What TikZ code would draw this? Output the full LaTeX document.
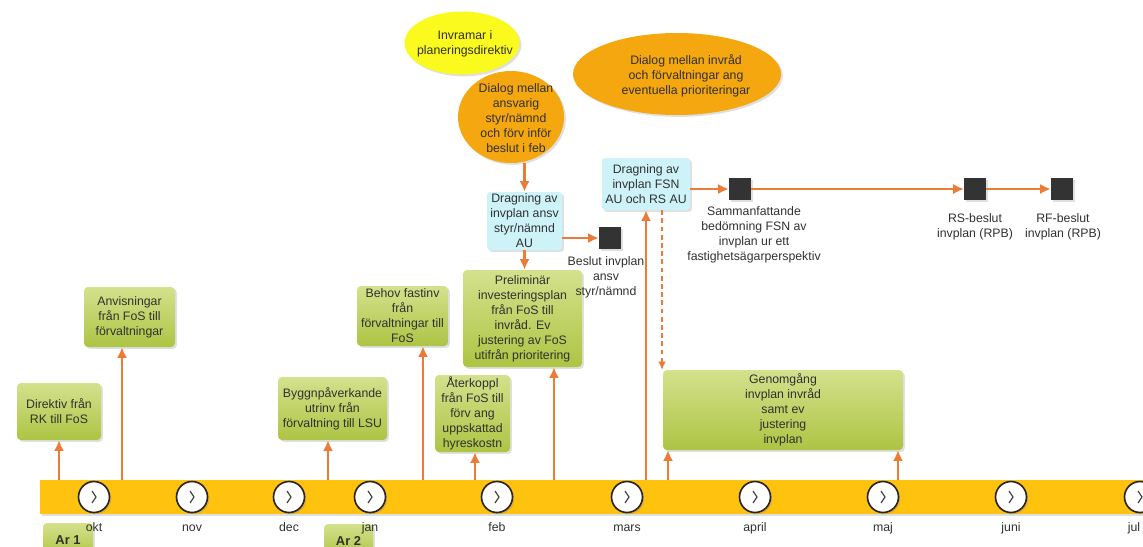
\documentclass[tikz,border=0pt]{standalone}
\usepackage{fontspec}
\setmainfont{Liberation Sans}
\usetikzlibrary{positioning,arrows.meta,shapes.geometric,shadows}
\definecolor{bar-gold}{HTML}{FFC20E}
\definecolor{green-top}{HTML}{D4E18D}
\definecolor{green-bot}{HTML}{ADC443}
\definecolor{box-cyan}{HTML}{CDF3F8}
\definecolor{ell-orange}{HTML}{F4A70F}
\definecolor{ell-yellow}{HTML}{FAFA1E}
\definecolor{arrow-orange}{HTML}{EB7B37}
\definecolor{text-gray}{HTML}{303030}
\definecolor{sq-dark}{HTML}{333333}
\newdimen\tlpx
\setlength{\tlpx}{0.03cm}
\tikzstyle{every node}=[font=\fontsize{10.5}{12.8}\selectfont, text=text-gray]
\tikzstyle{softshadow}=[drop shadow={opacity=0.25, shadow xshift=1.6pt, shadow yshift=-1.6pt}]
\tikzstyle{barstyle}=[shape=rectangle, fill=bar-gold, inner sep=0pt, softshadow]
\tikzstyle{greenstyle}=[shape=rectangle, rounded corners=4\tlpx, top color=green-top, bottom color=green-bot, align=center, inner sep=1pt, softshadow]
\tikzstyle{cyanstyle}=[shape=rectangle, rounded corners=3\tlpx, fill=box-cyan, align=center, inner sep=1pt, softshadow]
\tikzstyle{ellstyle}=[shape=ellipse, inner sep=0pt, softshadow]
\tikzstyle{elltextstyle}=[align=center, inner sep=0pt]
\tikzstyle{squarestyle}=[shape=rectangle, fill=sq-dark, minimum size=22\tlpx, inner sep=0pt, softshadow]
\tikzstyle{sqlabelstyle}=[anchor=north, align=center, inner sep=0pt]
\tikzstyle{clockstyle}=[shape=circle, fill=white, draw=black!85, line width=1.4pt, minimum size=31\tlpx, inner sep=0pt, softshadow]
\tikzstyle{chevstyle}=[draw=black!75, line width=1pt]
\tikzstyle{monthstyle}=[anchor=base, inner sep=0pt]
\tikzstyle{yearstyle}=[greenstyle, font=\bfseries\fontsize{11}{13}\selectfont]
\tikzstyle{arrowstyle}=[draw=arrow-orange, line width=2pt, -{Latex[length=9pt,width=8.5pt]}]
\tikzstyle{thinarrowstyle}=[arrowstyle, line width=1.2pt]
\tikzstyle{dashedarrowstyle}=[arrowstyle, line width=1pt, dash pattern=on 4pt off 3pt, -{Latex[length=7pt,width=6.5pt]}]
\newcommand{\tlmonth}[4]{ \node[style=clockstyle] (#1) at (#2,497) {}; \draw[style=chevstyle] ([shift={(-2,-6)}]#1.center) -- ([shift={(2,0)}]#1.center) -- ([shift={(-2,6)}]#1.center); \node[style=monthstyle] (#1lbl) at (#3,531) {#4}; }
\newcommand{\tlgreen}[6]{ \node[style=greenstyle, minimum width=#4\tlpx, minimum height=#5\tlpx] (#1) at (#2,#3) {#6}; }
\newcommand{\tlcyan}[6]{ \node[style=cyanstyle, minimum width=#4\tlpx, minimum height=#5\tlpx] (#1) at (#2,#3) {#6}; }
\newcommand{\tlellipse}[9]{ \node[style=ellstyle, fill=#6, minimum width=#4\tlpx, minimum height=#5\tlpx] (#1) at (#2,#3) {}; \node[style=elltextstyle] (#1txt) at (#7,#8) {#9}; }
\newcommand{\tlsquare}[6]{ \node[style=squarestyle] (#1) at (#2,#3) {}; \node[style=sqlabelstyle] (#1lbl) at (#4,#5) {#6}; }
\newcommand{\tlup}[3]{ \coordinate (#1) at (#2,480); \draw[style=arrowstyle] (#1) -- (#3.south -| #1); }

\begin{document}
\begin{tikzpicture}[x=0.03cm, y=-0.03cm]
\useasboundingbox (0,0) rectangle (1143,546);
\clip (0,0) rectangle (1143,546);
% time line
\node[style=barstyle, anchor=north west, minimum width=1120\tlpx, minimum height=34\tlpx] (bar) at (40,480) {}; %
\node[style=yearstyle, minimum width=50\tlpx, minimum height=34\tlpx] (ar1) at (68,540) {Ar 1}; %
\node[style=yearstyle, minimum width=49\tlpx, minimum height=34\tlpx] (ar2) at (348.5,541) {Ar 2}; %
\tlmonth{okt}{94}{94}{okt} %
\tlmonth{nov}{192}{192}{nov} %
\tlmonth{dec}{289}{289}{dec} %
\tlmonth{jan}{370}{370}{jan} %
\tlmonth{feb}{497}{497}{feb} %
\tlmonth{mars}{627}{627}{mars} %
\tlmonth{april}{755}{755}{april} %
\tlmonth{maj}{883}{883}{maj} %
\tlmonth{juni}{1011}{1011}{juni} %
\tlmonth{jul}{1140}{1134}{jul} %
% ellipses
\tlellipse{ramar}{462}{43}{115}{63}{ell-yellow}{465}{44}{Invramar i\\planeringsdirektiv} %
\tlellipse{dlgansv}{511}{117}{106}{92}{ell-orange}{516}{118}{Dialog mellan\\ansvarig\\styr/nämnd\\och förv inför\\beslut i feb} %
\tlellipse{dlgprio}{677}{74}{208}{82}{ell-orange}{686}{76}{Dialog mellan invråd\\och förvaltningar ang\\eventuella prioriteringar} %
% boxes
\tlgreen{direktiv}{59}{411.5}{84}{57}{Direktiv från\\RK till FoS} %
\tlgreen{anvis}{129.5}{317}{91}{60}{Anvisningar\\från FoS till\\förvaltningar} %
\tlgreen{byggn}{332.5}{408.5}{109}{63}{Byggnpåverkande\\utrinv från\\förvaltning till LSU} %
\tlgreen{behov}{402.5}{316}{91}{60}{Behov fastinv\\från\\förvaltningar till\\FoS} %
\tlgreen{aterk}{472.5}{413.5}{75}{77}{Återkoppl\\från FoS till\\förv ang\\uppskattad\\hyreskostn} %
\tlgreen{prelim}{522.5}{318.5}{119}{97}{Preliminär\\investeringsplan\\från FoS till\\invråd. Ev\\justering av FoS\\utifrån prioritering} %
\tlgreen{genomg}{783}{410}{240}{80}{Genomgång\\invplan invråd\\samt ev\\justering\\invplan} %
\tlcyan{ansv}{524.5}{221}{75}{58}{Dragning av\\invplan ansv\\styr/nämnd\\AU} %
\tlcyan{fsn}{646}{184}{88}{52}{Dragning av\\invplan FSN\\AU och RS AU} %
% decisions
\tlsquare{sqansv}{610}{238}{606}{256}{Beslut invplan\\ansv\\styr/nämnd} %
\tlsquare{sqfsn}{740}{189}{754}{206}{Sammanfattande\\bedömning FSN av\\invplan ur ett\\fastighetsägarperspektiv} %
\tlsquare{sqrs}{975}{189}{975}{213}{RS-beslut\\invplan (RPB)} %
\tlsquare{sqrf}{1062}{189}{1063}{213}{RF-beslut\\invplan (RPB)} %
% arrows from the time line
\tlup{updir}{59}{direktiv} %
\tlup{upanv}{122}{anvis} %
\tlup{upbyg}{328}{byggn} %
\tlup{upbeh}{423}{behov} %
\tlup{upate}{475}{aterk} %
\tlup{uppre}{554}{prelim} %
\tlup{upfsn}{646}{fsn} %
\tlup{upgena}{668}{genomg} %
\tlup{upgenb}{898}{genomg} %
% other arrows
\draw[style=arrowstyle] (ansv.north |- dlgansv.south) -- (ansv.north); %
\draw[style=arrowstyle] (ansv.south) -- (prelim.north -| ansv.south); %
\draw[style=arrowstyle] (ansv.east |- sqansv.west) -- (sqansv.west); %
\draw[style=arrowstyle] (fsn.east |- sqfsn.west) -- (sqfsn.west); %
\draw[style=thinarrowstyle] (sqfsn.east) -- (sqrs.west); %
\draw[style=arrowstyle] (sqrs.east) -- (sqrf.west); %
\draw[style=dashedarrowstyle] ([xshift=16\tlpx]fsn.south) -- ([xshift=16\tlpx]fsn.south |- genomg.north); %
\end{tikzpicture}
\end{document}
